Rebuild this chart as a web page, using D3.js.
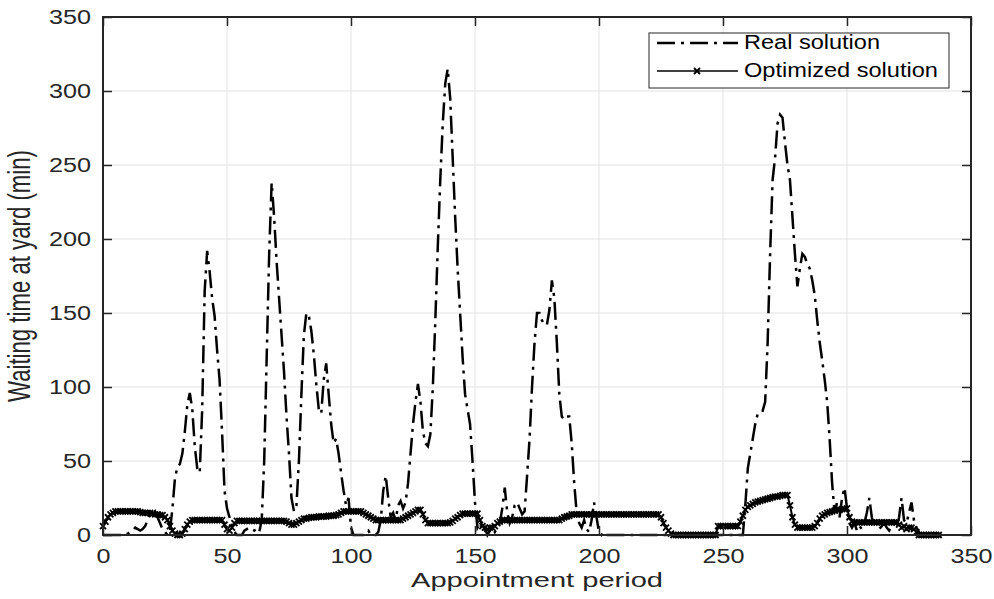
<!DOCTYPE html>
<html>
<head>
<meta charset="utf-8">
<script src="https://cdn.jsdelivr.net/npm/d3@7"></script>
<style>
  body { margin: 0; background: #fff; }
  svg { display: block; font-family: "Liberation Sans", Arial, sans-serif; }
</style>
</head>
<body>
<svg id="chart"></svg>
<script>
// tick labels
const xTicks = [0, 50, 100, 150, 200, 250, 300, 350];
const yTicks = [0, 50, 100, 150, 200, 250, 300, 350];
const seriesNames = ["Real solution", "Optimized solution"];

// waiting time (min) per appointment period, starting at period 0
const realValues = [
  0, 0, 0, 0, 0, 0, 0, 0, 0, 0,
  1, 2, 3, 5, 4, 3, 4, 6, 10, 14,
  14, 16, 12, 8, 4, 2, 0, 3, 18, 38,
  46, 48, 55, 70, 88, 96, 85, 60, 45, 42,
  85, 165, 192, 178, 160, 148, 125, 105, 70, 30,
  18, 12, 6, 2, 0, 0, 0, 3, 4, 5,
  4, 3, 4, 2, 10, 50, 120, 190, 238, 215,
  185, 160, 135, 110, 80, 55, 25, 16, 20, 50,
  95, 135, 150, 148, 138, 122, 102, 85, 82, 105,
  116, 95, 75, 62, 65, 55, 42, 30, 20, 25,
  5, 0, 0, 0, 0, 0, 2, 3, 0, 0,
  0, 2, 10, 30, 40, 25, 12, 15, 10, 20,
  23, 18, 22, 35, 55, 75, 90, 102, 90, 70,
  62, 60, 68, 100, 145, 195, 240, 278, 305, 315,
  295, 255, 215, 180, 150, 120, 95, 85, 75, 50,
  22, 5, 8, 2, 5, 0, 3, 5, 2, 5,
  8, 18, 32, 15, 8, 12, 20, 22, 18, 14,
  16, 40, 65, 100, 130, 150, 150, 145, 142, 142,
  152, 172, 160, 130, 95, 80, 78, 80, 80, 62,
  35, 15, 8, 5, 10, 4, 2, 10, 22, 12,
  2, 0, 2, 0, 0, 0, 0, 0, 0, 0,
  0, 0, 0, 0, 0, 0, 0, 0, 0, 0,
  0, 0, 0, 0, 0, 0, 0, 0, 0, 0,
  0, 0, 0, 0, 0, 0, 0, 0, 0, 0,
  0, 0, 0, 0, 0, 0, 0, 0, 0, 0,
  0, 0, 0, 0, 0, 0, 0, 0, 0, 20,
  45, 55, 65, 75, 82, 84, 84, 90, 130, 190,
  240, 255, 278, 284, 282, 265, 250, 240, 215, 190,
  168, 180, 190, 188, 183, 180, 172, 162, 145, 130,
  118, 105, 90, 65, 35, 15, 22, 12, 25, 32,
  18, 8, 5, 8, 3, 6, 4, 8, 15, 25,
  12, 6, 8, 4, 6, 8, 5, 3, 6, 8,
  5, 12, 25, 10, 8, 15, 22, 10, 5, 2,
  0
];

const optValues = [
  6, 9, 12, 14, 15, 16, 16, 16, 16, 16,
  16, 16, 16, 16, 16, 15.5, 15, 15, 15, 15,
  14.5, 14, 14, 13.5, 13.5, 12, 10, 6, 3, 1,
  0, 0, 1, 4, 7, 9, 10, 10, 10, 10,
  10, 10, 10, 10, 10, 10, 10, 10, 10, 7,
  4, 3, 5, 8, 9.5, 9.5, 9.5, 9.5, 9.5, 9.5,
  9.5, 9.5, 9.5, 9.5, 9.5, 9.5, 9.5, 9.5, 9.5, 9.5,
  9.5, 9.5, 9.5, 9.5, 9, 8, 7, 7, 8, 9,
  10, 11, 11, 11.5, 12, 12, 12, 12.5, 12.5, 12.5,
  12.5, 13, 13, 13, 13.5, 14, 15, 16, 16, 16,
  16, 16, 16, 16, 16, 15, 14, 13, 12, 11,
  10, 10, 10, 10, 10, 10, 10, 10, 10, 10,
  10, 11, 12, 13, 14, 15, 16, 17, 17, 14,
  10, 8, 8, 8, 8, 8, 8, 8, 8, 8,
  8.5, 9.5, 11, 12, 13.5, 14.5, 14.5, 14.5, 14.5, 14.5,
  14.5, 14.5, 10, 6, 5, 4, 5, 5, 6, 8,
  9, 10, 10, 10, 10, 10, 10, 10, 10, 10,
  10, 10, 10, 10, 10, 10, 10, 10, 10, 10,
  10, 10, 10, 10, 10, 11, 12, 12.5, 13, 14,
  14, 14, 14, 14, 14, 14, 14, 14, 14, 14,
  14, 14, 14, 14, 14, 14, 14, 14, 14, 14,
  14, 14, 14, 14, 14, 14, 14, 14, 14, 14,
  14, 14, 14, 14, 14, 12, 8, 5, 3, 1,
  0, 0, 0, 0, 0, 0, 0, 0, 0, 0,
  0, 0, 0, 0, 0, 0, 0, 0, 6, 6,
  6, 6, 6, 6, 6, 6, 6, 9, 13, 17,
  19, 20, 21, 22, 22.5, 23, 23.5, 24, 24.5, 25,
  25.5, 26, 26, 26.5, 27, 27, 27, 20, 12, 7,
  5, 5, 5, 5, 5, 5, 5, 6, 8, 11,
  13, 14, 15, 15.5, 16, 16.5, 17, 17, 17.5, 17.5,
  18, 12, 9, 8.5, 8.5, 8.5, 8.5, 8.5, 8.5, 8.5,
  8.5, 8.5, 8.5, 8.5, 8.5, 8.5, 8.5, 8.5, 8.5, 8.5,
  8.5, 7, 5, 6, 4, 5, 5, 4, 2, 0,
  0, 0, 0, 0, 0, 0, 0, 0
];

const W = 994, H = 599;
const margin = { top: 17, right: 23, bottom: 64, left: 103 };
const width = W - margin.left - margin.right;
const height = H - margin.top - margin.bottom;
const ink = "#262626";
const dashDot = "18,6,3,6";

const svg = d3.select("#chart").attr("width", W).attr("height", H);
svg.append("rect").attr("width", W).attr("height", H).attr("fill", "#fff");

const g = svg.append("g").attr("transform", `translate(${margin.left},${margin.top})`);

const x = d3.scaleLinear().domain([0, 350]).range([0, width]);
const y = d3.scaleLinear().domain([0, 350]).range([height, 0]);

// grid
g.append("g").selectAll("line").data(xTicks).join("line")
  .attr("x1", d => x(d)).attr("x2", d => x(d))
  .attr("y1", 0).attr("y2", height)
  .attr("stroke", "#e2e2e2").attr("stroke-width", 1);
g.append("g").selectAll("line").data(yTicks).join("line")
  .attr("x1", 0).attr("x2", width)
  .attr("y1", d => y(d)).attr("y2", d => y(d))
  .attr("stroke", "#e2e2e2").attr("stroke-width", 1);

// series
const realData = realValues.map((v, i) => [i, v]);
const optData = optValues.map((v, i) => [i, v]);
const line = d3.line().x(d => x(d[0])).y(d => y(d[1]));

g.append("path").datum(realData)
  .attr("d", line)
  .attr("fill", "none").attr("stroke", "#000")
  .attr("stroke-width", 2.5).attr("stroke-dasharray", dashDot);

g.append("path").datum(optData)
  .attr("d", line)
  .attr("fill", "none").attr("stroke", "#000").attr("stroke-width", 2);

const cross = "M-3,-3L3,3M-3,3L3,-3";
g.append("g").selectAll("path").data(optData).join("path")
  .attr("transform", d => `translate(${x(d[0])},${y(d[1])})`)
  .attr("d", cross)
  .attr("stroke", "#000").attr("stroke-width", 1.8).attr("fill", "none");

// axes
function styleAxis(sel) {
  sel.select(".domain").remove();
  sel.selectAll(".tick line").attr("stroke", ink).attr("stroke-width", 1.5);
  sel.selectAll(".tick text")
    .attr("fill", ink)
    .style("font-size", "20px")
    .attr("textLength", d => String(d).length * 14)
    .attr("lengthAdjust", "spacingAndGlyphs");
}

g.append("g").attr("transform", `translate(0,${height})`)
  .call(d3.axisBottom(x).tickValues(xTicks).tickSizeInner(-9).tickSizeOuter(0).tickPadding(14))
  .call(styleAxis);
g.append("g")
  .call(d3.axisLeft(y).tickValues(yTicks).tickSizeInner(-9).tickSizeOuter(0).tickPadding(12))
  .call(styleAxis);
g.append("g")
  .call(d3.axisTop(x).tickValues(xTicks).tickSizeInner(-9).tickSizeOuter(0).tickFormat(""))
  .call(styleAxis);
g.append("g").attr("transform", `translate(${width},0)`)
  .call(d3.axisRight(y).tickValues(yTicks).tickSizeInner(-9).tickSizeOuter(0).tickFormat(""))
  .call(styleAxis);

g.append("rect")
  .attr("width", width).attr("height", height)
  .attr("fill", "none").attr("stroke", ink).attr("stroke-width", 2);

// axis titles
svg.append("text")
  .attr("x", margin.left + width / 2).attr("y", 587)
  .attr("text-anchor", "middle").attr("fill", ink)
  .style("font-size", "20px")
  .attr("textLength", 252).attr("lengthAdjust", "spacingAndGlyphs")
  .text("Appointment period");

svg.append("text")
  .attr("transform", `translate(30,${margin.top + height / 2}) scale(1.4,1) rotate(-90)`)
  .attr("text-anchor", "middle").attr("fill", ink)
  .style("font-size", "22px")
  .attr("textLength", 252).attr("lengthAdjust", "spacingAndGlyphs")
  .text("Waiting time at yard (min)");

// legend
const legend = svg.append("g").attr("transform", "translate(649,33)");
legend.append("rect")
  .attr("width", 300).attr("height", 55)
  .attr("fill", "#fff").attr("stroke", ink).attr("stroke-width", 1);
legend.append("line")
  .attr("x1", 8).attr("x2", 89).attr("y1", 10).attr("y2", 10)
  .attr("stroke", "#000").attr("stroke-width", 2.5).attr("stroke-dasharray", dashDot);
legend.append("line")
  .attr("x1", 8).attr("x2", 89).attr("y1", 38).attr("y2", 38)
  .attr("stroke", "#000").attr("stroke-width", 1.5);
legend.append("path")
  .attr("transform", "translate(48,38)")
  .attr("d", cross).attr("stroke", "#000").attr("stroke-width", 1.8);
legend.selectAll("text.item").data(seriesNames).join("text")
  .attr("class", "item")
  .attr("x", 95).attr("y", (d, i) => 16 + i * 28)
  .attr("fill", "#000")
  .style("font-size", "20px")
  .attr("textLength", (d, i) => i === 0 ? 136 : 194)
  .attr("lengthAdjust", "spacingAndGlyphs")
  .text(d => d);
</script>
</body>
</html>
